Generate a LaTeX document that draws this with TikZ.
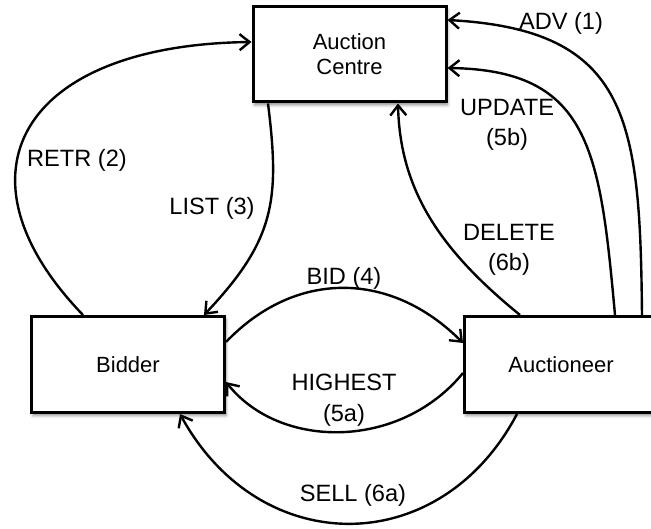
\documentclass[tikz,border=0pt]{standalone}
\usepackage{fontspec}
\setmainfont{Liberation Sans}
\usetikzlibrary{arrows.meta,calc,shadows.blur}
\begin{document}
\begin{tikzpicture}[x=1pt,y=-1pt,
  box/.style={draw, line width=3pt, fill=white, minimum width=193pt, minimum height=96pt,
    inner sep=0pt, align=center, font=\fontsize{22}{25}\selectfont,
    blur shadow={shadow xshift=1.5pt, shadow yshift=-3pt, shadow blur radius=3pt, shadow opacity=45}},
  conn/.style={line width=2.4pt, -{Straight Barb[length=10pt,width=16pt]}},
  lbl/.style={font=\fontsize{23.6}{30.5}\selectfont, align=center, inner sep=0pt}]
\useasboundingbox (0,0) rectangle (651,529);

\node[box, minimum height=95pt] (ac) at (349.5,54.5) {Auction\\Centre};
\node[box] (bid) at (128,364.5) {Bidder};
\node[box] (auct) at (561,364.5) {Auctioneer};

% ADV (1)
\draw[conn] ($(auct.north)+(81,0)$) .. controls (640,120) and (630,30) .. ($(ac.east)+(0,-34.5)$);
% UPDATE (5b)
\draw[conn] ($(auct.north)+(54,0)$) .. controls (600,150) and (590,70) .. ($(ac.east)+(0,13.5)$);
% DELETE (6b)
\draw[conn] ($(auct.north)+(-41,0)$) .. controls (440,250) and (400,190) .. ($(ac.south)+(48.5,0)$);
% LIST (3)
\draw[conn] ($(ac.south)+(-81.5,0)$) .. controls (280,200) and (275,240) .. ($(bid.north)+(76,0)$);
% RETR (2)
\draw[conn] ($(bid.north)+(-45,0)$) .. controls (-52,175) and (20,45) .. ($(ac.west)+(0,-12.5)$);
% BID (4)
\draw[conn] ($(bid.east)+(0,-22.5)$) .. controls (295,270) and (390,270) .. ($(auct.west)+(0,-21.5)$);
% HIGHEST (5a)
\draw[conn] ($(auct.west)+(0,8.5)$) .. controls (400,450) and (280,450) .. ($(bid.east)+(0,17.5)$);
% SELL (6a)
\draw[conn] ($(auct.south)+(-44,0)$) .. controls (440,560) and (260,560) .. ($(bid.south)+(52,0)$);

\node[lbl] (l1) at (561,23) {ADV (1)};
\node[lbl] (l5b) at (507,125) {UPDATE\\(5b)};
\node[lbl] (l6b) at (509,250) {DELETE\\(6b)};
\node[lbl] (l2) at (77,160) {RETR (2)};
\node[lbl] (l3) at (212,208) {LIST (3)};
\node[lbl] (l4) at (344,278) {BID (4)};
\node[lbl] (l5a) at (344,400) {HIGHEST\\(5a)};
\node[lbl] (l6a) at (353,495) {SELL (6a)};
\end{tikzpicture}
\end{document}
